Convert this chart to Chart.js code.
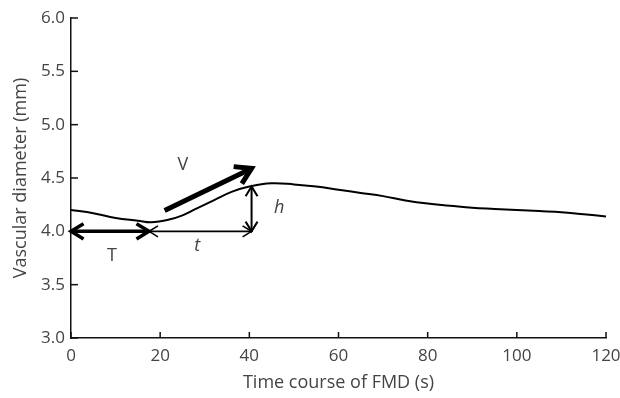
<!DOCTYPE html>
<html>
<head>
<meta charset="utf-8">
<script src="https://cdn.jsdelivr.net/npm/chart.js@4"></script>
<style>
  html, body { margin: 0; padding: 0; background: #fff; }
  #wrap { width: 620px; height: 398px; }
</style>
</head>
<body>
<div id="wrap"><canvas id="fmdChart"></canvas></div>
<script>
// diameter trace
const timeSec = [0, 5, 10, 15, 18, 22, 25, 28, 32, 36, 40, 45, 50, 55, 60, 65, 70, 75, 80, 85, 90, 95, 100, 105, 110, 115, 120];
const diameterMm = [4.20, 4.17, 4.125, 4.10, 4.085, 4.11, 4.15, 4.21, 4.29, 4.37, 4.42, 4.45, 4.44, 4.42, 4.39, 4.36, 4.33, 4.29, 4.26, 4.24, 4.22, 4.21, 4.20, 4.19, 4.18, 4.16, 4.14];

// arrows: [x1, y1, x2, y2, width, headAtStart, headAtEnd]
const arrows = [
  [0, 4.0, 17.5, 4.0, 3.5, true, true],      // T
  [17.5, 4.0, 40.5, 4.0, 1.6, true, true],   // t
  [40.5, 4.0, 40.5, 4.42, 2, true, true],    // h
  [21, 4.195, 40.5, 4.59, 5, false, true]    // V
];
// labels: [text, x, y, italic]
const notes = [
  ['V', 25.1, 4.62, false],
  ['T', 9.2, 3.77, false],
  ['t', 28.3, 3.86, true],
  ['h', 46.7, 4.22, true]
];

const textColor = '#444';
const fontFamily = "'Open Sans', 'Noto Sans', sans-serif";

// inward ticks + arrows + labels
const overlay = {
  id: 'overlay',
  afterDatasetsDraw(chart) {
    const ctx = chart.ctx;
    const xs = chart.scales.x, ys = chart.scales.y;
    const area = chart.chartArea;
    ctx.save();
    ctx.strokeStyle = '#111';
    ctx.lineWidth = 1.5;
    xs.ticks.forEach(t => {
      const px = xs.getPixelForValue(t.value);
      ctx.beginPath();
      ctx.moveTo(px, area.bottom);
      ctx.lineTo(px, area.bottom - 6);
      ctx.stroke();
    });
    ys.ticks.forEach(t => {
      const py = ys.getPixelForValue(t.value);
      ctx.beginPath();
      ctx.moveTo(area.left, py);
      ctx.lineTo(area.left + 7, py);
      ctx.stroke();
    });

    ctx.strokeStyle = '#000';
    arrows.forEach(a => {
      const x1 = xs.getPixelForValue(a[0]), y1 = ys.getPixelForValue(a[1]);
      const x2 = xs.getPixelForValue(a[2]), y2 = ys.getPixelForValue(a[3]);
      const w = a[4];
      const ang = Math.atan2(y2 - y1, x2 - x1);
      const hl = 7 + w * 2.2;
      ctx.lineWidth = w;
      ctx.beginPath();
      ctx.moveTo(x1, y1);
      ctx.lineTo(x2, y2);
      ctx.stroke();
      const head = (x, y, dir) => {
        ctx.beginPath();
        ctx.moveTo(x + hl * Math.cos(dir + 0.55), y + hl * Math.sin(dir + 0.55));
        ctx.lineTo(x, y);
        ctx.lineTo(x + hl * Math.cos(dir - 0.55), y + hl * Math.sin(dir - 0.55));
        ctx.stroke();
      };
      if (a[5]) head(x1, y1, ang);
      if (a[6]) head(x2, y2, ang + Math.PI);
    });

    ctx.fillStyle = textColor;
    ctx.textAlign = 'center';
    ctx.textBaseline = 'middle';
    notes.forEach(n => {
      ctx.font = (n[3] ? 'italic ' : '') + '18px ' + fontFamily;
      ctx.fillText(n[0], xs.getPixelForValue(n[1]), ys.getPixelForValue(n[2]));
    });
    ctx.restore();
  }
};

new Chart(document.getElementById('fmdChart'), {
  type: 'line',
  data: {
    datasets: [{
      data: timeSec.map((t, i) => ({ x: t, y: diameterMm[i] })),
      borderColor: '#000',
      borderWidth: 2,
      pointRadius: 0,
      tension: 0.4,
      fill: false
    }]
  },
  options: {
    responsive: true,
    maintainAspectRatio: false,
    animation: false,
    layout: { padding: { top: 18, right: 14, left: 0, bottom: 0 } },
    plugins: { legend: { display: false }, tooltip: { enabled: false } },
    scales: {
      x: {
        type: 'linear',
        min: 0, max: 120,
        ticks: { stepSize: 20, color: textColor, font: { family: fontFamily, size: 17 }, padding: 8 },
        grid: { drawOnChartArea: false, drawTicks: false },
        border: { color: '#111', width: 1.5 },
        title: { display: true, text: 'Time course of FMD (s)', color: textColor, font: { family: fontFamily, size: 18 }, padding: { top: 4, bottom: 4 } },
        afterFit(s) { s.height = 60; s.paddingLeft = 0; s.paddingRight = 0; }
      },
      y: {
        min: 3, max: 6,
        ticks: { stepSize: 0.5, color: textColor, font: { family: fontFamily, size: 17 }, padding: 6, callback: v => v.toFixed(1) },
        grid: { drawOnChartArea: false, drawTicks: false },
        border: { color: '#111', width: 1.5 },
        title: { display: true, text: 'Vascular diameter (mm)', color: textColor, font: { family: fontFamily, size: 18 }, padding: { top: 10, bottom: 2 } },
        afterFit(s) { s.width = 71; s.paddingTop = 0; s.paddingBottom = 0; }
      }
    }
  },
  plugins: [overlay]
});
</script>
</body>
</html>
